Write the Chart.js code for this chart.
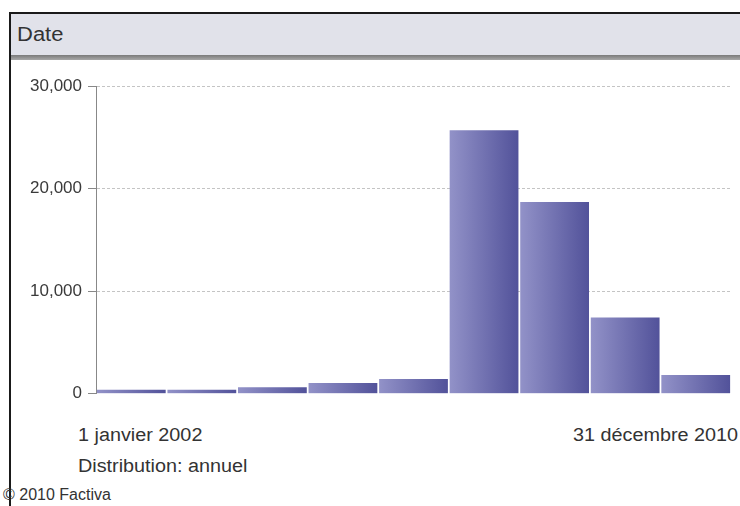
<!DOCTYPE html>
<html>
<head>
<meta charset="utf-8">
<script src="https://cdn.jsdelivr.net/npm/chart.js@4/dist/chart.umd.min.js"></script>
<style>
  body { margin:0; width:740px; height:506px; background:#fff; position:relative; overflow:hidden;
         font-family:"Liberation Sans", Arial, sans-serif; color:#333; }
  #frame { position:absolute; left:9px; top:12px; width:740px; height:500px; border-left:2px solid #1a1a1a; }
  #head { position:absolute; left:11px; top:12px; width:729px; height:41px; background:#e1e2ea;
          border-top:2px solid #1a1a1a; }
  #head .shade { position:absolute; left:0; right:0; bottom:-5px; height:5px;
                 background:linear-gradient(#7a7a7a, #a8a8a8); }
  #head span { position:absolute; left:6px; top:9px; font-size:20px; color:#333;
               transform:scaleX(1.1); transform-origin:left top; }
  #wrap { position:absolute; left:0; top:70px; width:740px; height:340px; }
  .lbl { position:absolute; font-size:18px; color:#333; white-space:nowrap;
         transform:scaleX(1.1); }
</style>
</head>
<body>
<div id="frame"></div>
<div id="head"><span>Date</span><div class="shade"></div></div>
<div id="wrap"><canvas id="date_graph"></canvas></div>
<div class="lbl" style="left:78px; top:425px; transform-origin:left top;">1 janvier 2002</div>
<div class="lbl" style="right:2px; top:425px; transform-origin:right top;">31 décembre 2010</div>
<div class="lbl" style="left:78px; top:456px; transform-origin:left top;">Distribution: annuel</div>
<div class="lbl" style="left:3px; top:486px; font-size:16px; transform:none;">© 2010 Factiva</div>
<script>
// années (distribution annuelle)
var years = ['2002','2003','2004','2005','2006','2007','2008','2009','2010'];
// nombre d'articles par année
var counts = [400, 400, 650, 1050, 1450, 25700, 18700, 7450, 1830];
var yTicks = [0, 10000, 20000, 30000];

var barPct = 0.975;

function barGradient(context){
    var chart = context.chart;
    var xs = chart.scales.x;
    if(!xs || !chart.chartArea) return '#7070b0';
    var cx = xs.getPixelForValue(context.dataIndex);
    var half = (chart.chartArea.width / years.length) * barPct / 2;
    if(isNaN(cx)) return '#7070b0';
    var g = chart.ctx.createLinearGradient(cx - half, 0, cx + half, 0);
    g.addColorStop(0, '#9292c8');
    g.addColorStop(1, '#52529a');
    return g;
}

var ctx = document.getElementById('date_graph').getContext('2d');
var chart = new Chart(ctx, {
    type: 'bar',
    data: {
        labels: years,
        datasets: [{
            label: 'Date',
            data: counts,
            backgroundColor: barGradient,
            borderWidth: 0,
            barPercentage: barPct,
            categoryPercentage: 1
        }]
    },
    options: {
        responsive: true,
        maintainAspectRatio: false,
        animation: false,
        layout: { padding: { top: 15, right: 9, bottom: 10, left: 0 } },
        plugins: {
            legend: { display: false },
            tooltip: { enabled: false }
        },
        scales: {
            x: { display: false },
            y: {
                min: 0,
                max: 30000,
                afterFit: function(scale){ scale.width = 96; },
                afterBuildTicks: function(scale){
                    scale.ticks = yTicks.map(function(v){ return {value: v}; });
                },
                ticks: {
                    color: '#3a3a3a',
                    padding: 6,
                    font: { family: 'Liberation Sans', size: 17 },
                    callback: function(v){ return v.toLocaleString('en-US'); }
                },
                grid: {
                    color: function(c){ return c.tick && c.tick.value === 0 ? 'rgba(0,0,0,0)' : '#c4c4c4'; },
                    tickColor: '#888',
                    tickLength: 8,
                    tickBorderDash: []
                },
                border: { color: '#888', width: 1, dash: [3, 2] }
            }
        }
    }
});
</script>
</body>
</html>
